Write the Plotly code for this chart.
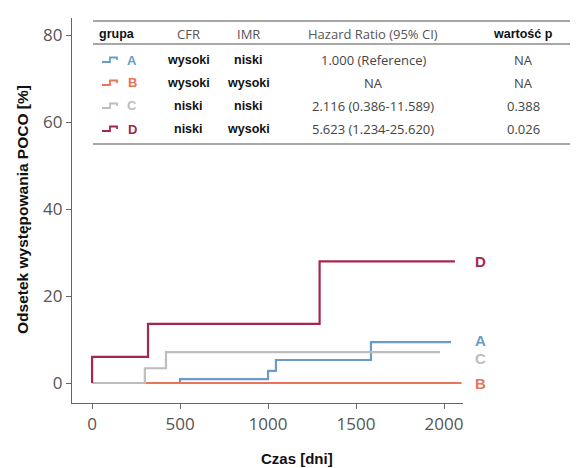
import plotly.graph_objects as go

# ---- data ----
groups = ["A", "B", "C", "D"]
colors = ["#6b9bcb", "#e9735b", "#bdbdbd", "#a3284d"]
a_x = [0, 500, 1000, 1045, 1585, 2040]
a_y = [0, 0.9, 2.8, 5.3, 9.4, 9.4]
b_x = [0, 2100]
b_y = [0, 0]
c_x = [0, 300, 420, 1977]
c_y = [0, 3.4, 7.1, 7.1]
d_x = [0, 0, 318, 1293, 2062]
d_y = [0, 6.0, 13.6, 28.0, 28.0]
label_y = [9.8, 0.0, 5.7, 28.0]

cfr = ["wysoki", "wysoki", "niski", "niski"]
imr = ["niski", "wysoki", "niski", "wysoki"]
hr = ["1.000 (Reference)", "NA", "2.116 (0.386-11.589)", "5.623 (1.234-25.620)"]
pval = ["NA", "NA", "0.388", "0.026"]
headers = ["grupa", "CFR", "IMR", "Hazard Ratio (95% CI)", "wartość p"]

x_ticks = [0, 500, 1000, 1500, 2000]
y_ticks = [0, 20, 40, 60, 80]

series_x = [a_x, b_x, c_x, d_x]
series_y = [a_y, b_y, c_y, d_y]

# ---- layout geometry (reference pixels); page body has an 8px margin ----
OFF = 8
W, H = 578 - OFF, 468 - OFF
L, R, T, B = 72, 463, 18, 403


def px(x):
    return (x - L) / (R - L)


def py(y):
    return (B - y) / (B - T)


fig = go.Figure()
for g, col, xs, ys in zip(groups, colors, series_x, series_y):
    fig.add_trace(go.Scatter(x=xs, y=ys, mode="lines", line=dict(color=col, width=2.2, shape="hv"),
                             name=g, showlegend=False, hoverinfo="skip", cliponaxis=False))

annotations = []
shapes = []

# end labels (x in paper space, y on the data axis)
for g, col, ly in zip(groups, colors, label_y):
    annotations.append(dict(x=px(480), y=ly, xref="paper", yref="y", text="<b>" + g + "</b>", showarrow=False,
                            font=dict(family="Liberation Sans", size=15, color=col), xanchor="center",
                            yanchor="middle"))

# table
tx0, tx1 = 93, 573
for yy in [21, 44, 144]:
    shapes.append(dict(type="line", xref="paper", yref="paper", x0=px(tx0), x1=px(tx1), y0=py(yy), y1=py(yy),
                       line=dict(color="#8a8a8a", width=1.6)))
col_x = [117, 188, 248, 373, 523]
head_y = 34
row_y = [60, 83, 106, 129]
hdr_bold = [True, False, False, False, True]
for cx, h, bd in zip(col_x, headers, hdr_bold):
    if bd:
        annotations.append(dict(x=px(cx), y=py(head_y), xref="paper", yref="paper", text="<b>" + h + "</b>",
                                showarrow=False, font=dict(family="Liberation Sans", size=12.5, color="#111"),
                                xanchor="center", yanchor="middle"))
    else:
        annotations.append(dict(x=px(cx), y=py(head_y), xref="paper", yref="paper", text=h,
                                showarrow=False, font=dict(family="Open Sans", size=13, color="#555"),
                                xanchor="center", yanchor="middle"))

for i, ry in enumerate(row_y):
    col = colors[i]
    path = "M {} {} L {} {} L {} {} L {} {} L {} {}".format(
        px(102), py(ry + 2), px(110), py(ry + 2), px(110), py(ry - 2.5), px(117), py(ry - 2.5), px(117), py(ry))
    shapes.append(dict(type="path", xref="paper", yref="paper", path=path, line=dict(color=col, width=1.8)))
    annotations.append(dict(x=px(132), y=py(ry), xref="paper", yref="paper", text="<b>" + groups[i] + "</b>",
                            showarrow=False, font=dict(family="Liberation Sans", size=13, color=col),
                            xanchor="center", yanchor="middle"))
    for cx, txt in [(col_x[1], cfr[i]), (col_x[2], imr[i])]:
        annotations.append(dict(x=px(cx), y=py(ry), xref="paper", yref="paper", text="<b>" + txt + "</b>",
                                showarrow=False, font=dict(family="Liberation Sans", size=12.5, color="#111"),
                                xanchor="center", yanchor="middle"))
    for cx, txt in [(col_x[3], hr[i]), (col_x[4], pval[i])]:
        annotations.append(dict(x=px(cx), y=py(ry), xref="paper", yref="paper", text=txt,
                                showarrow=False, font=dict(family="Open Sans", size=13, color="#444"),
                                xanchor="center", yanchor="middle"))

# axis titles
annotations.append(dict(x=px(297), y=py(458), xref="paper", yref="paper", text="<b>Czas [dni]</b>",
                        showarrow=False, font=dict(family="Liberation Sans", size=15, color="#111"),
                        xanchor="center", yanchor="middle"))
annotations.append(dict(x=px(22), y=py(210), xref="paper", yref="paper", text="<b>Odsetek występowania POCO [%]</b>",
                        showarrow=False, textangle=-90, font=dict(family="Liberation Sans", size=15.5, color="#111"),
                        xanchor="center", yanchor="middle"))

fig.update_layout(
    width=W, height=H,
    margin=dict(l=L - OFF, r=578 - R, t=T - OFF, b=468 - B, autoexpand=False),
    paper_bgcolor="white", plot_bgcolor="white",
    xaxis=dict(range=[-114, 2108], tickvals=x_ticks, ticks="outside", ticklen=5, tickcolor="#666",
               showline=True, linecolor="#666", linewidth=1.3, showgrid=False, zeroline=False,
               tickfont=dict(family="Open Sans", size=17, color="#555"), automargin=False),
    yaxis=dict(range=[-4.6, 84], tickvals=y_ticks, ticks="outside", ticklen=5, tickcolor="#666",
               showline=True, linecolor="#666", linewidth=1.3, showgrid=False, zeroline=False,
               tickfont=dict(family="Open Sans", size=17, color="#555"), automargin=False),
    annotations=annotations, shapes=shapes,
)

fig.write_html("out.html")
